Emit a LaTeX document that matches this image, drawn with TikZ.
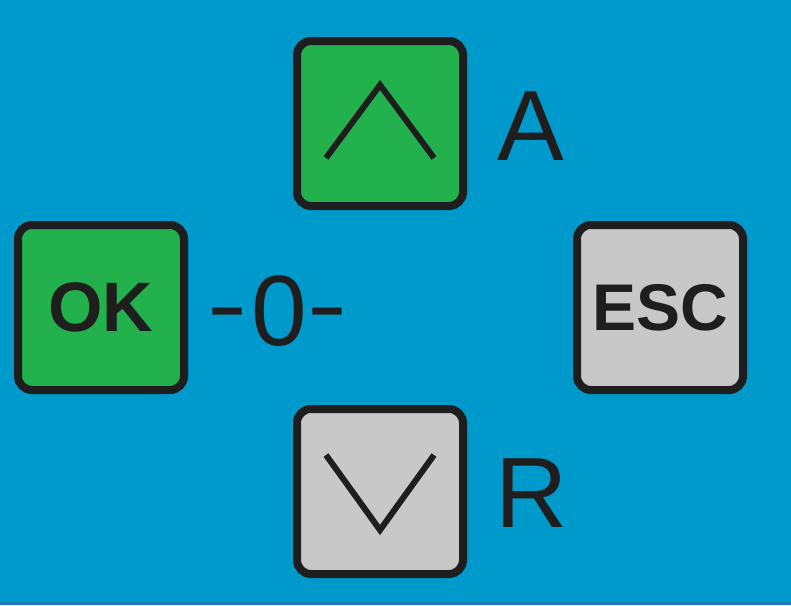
\documentclass[tikz,border=0pt]{standalone}
\usepackage{fontspec}
\setmainfont{Liberation Sans}
\definecolor{panelblue}{RGB}{0,153,204}
\definecolor{edgeblue}{RGB}{30,120,180}
\definecolor{keygreen}{RGB}{34,177,76}
\definecolor{keygrey}{RGB}{200,200,200}
\definecolor{keyblack}{RGB}{30,30,30}
\tikzstyle{key} = [
    rectangle,
    rounded corners=14pt,
    minimum width=166pt,
    minimum height=165pt,
    line width=8pt,
    draw=keyblack,
    text=keyblack,
    inner sep=0pt
]
\tikzstyle{greenkey} = [key, fill=keygreen]
\tikzstyle{greykey} = [key, fill=keygrey]
\tikzstyle{keytext} = [font=\fontsize{70}{70}\selectfont\bfseries]
\tikzstyle{label} = [
    anchor=base west,
    inner sep=0pt,
    text=keyblack,
    font=\fontsize{100}{100}\selectfont
]
\tikzstyle{chevron} = [line width=6pt, draw=keyblack, line join=miter]
\newcommand{\dashmark}{\raisebox{10pt}{\scalebox{1.2}[0.9]{-}}}

\begin{document}
\begin{tikzpicture}[x=1pt, y=-1pt]

\fill [panelblue] (0,0) rectangle (791,605);
\fill [edgeblue] (0,602) rectangle (791,605);
\useasboundingbox (0,0) rectangle (791,605);

\node (up) [greenkey] at (380,123.5) {};

\node (ok) [greenkey, keytext] at (101,307.5) {OK};

\node (esc) [greykey, font=\fontsize{66}{66}\selectfont\bfseries] at (660,307.5) {ESC};

\node (down) [greykey] at (380,491.5) {};

\draw [chevron] ([shift={(-54,34.5)}]up.center) -- ([shift={(0,-38.5)}]up.center) -- ([shift={(54,34.5)}]up.center);
\draw [chevron] ([shift={(-54,-36.5)}]down.center) -- ([shift={(0,38.5)}]down.center) -- ([shift={(54,-36.5)}]down.center);

\node (a) [label] at (497,160) {A};
\node (zero) [label] at (207,345) {\dashmark\kern4pt0\kern1pt\dashmark};
\node (r) [label] at (495,527) {R};

\end{tikzpicture}
\end{document}
